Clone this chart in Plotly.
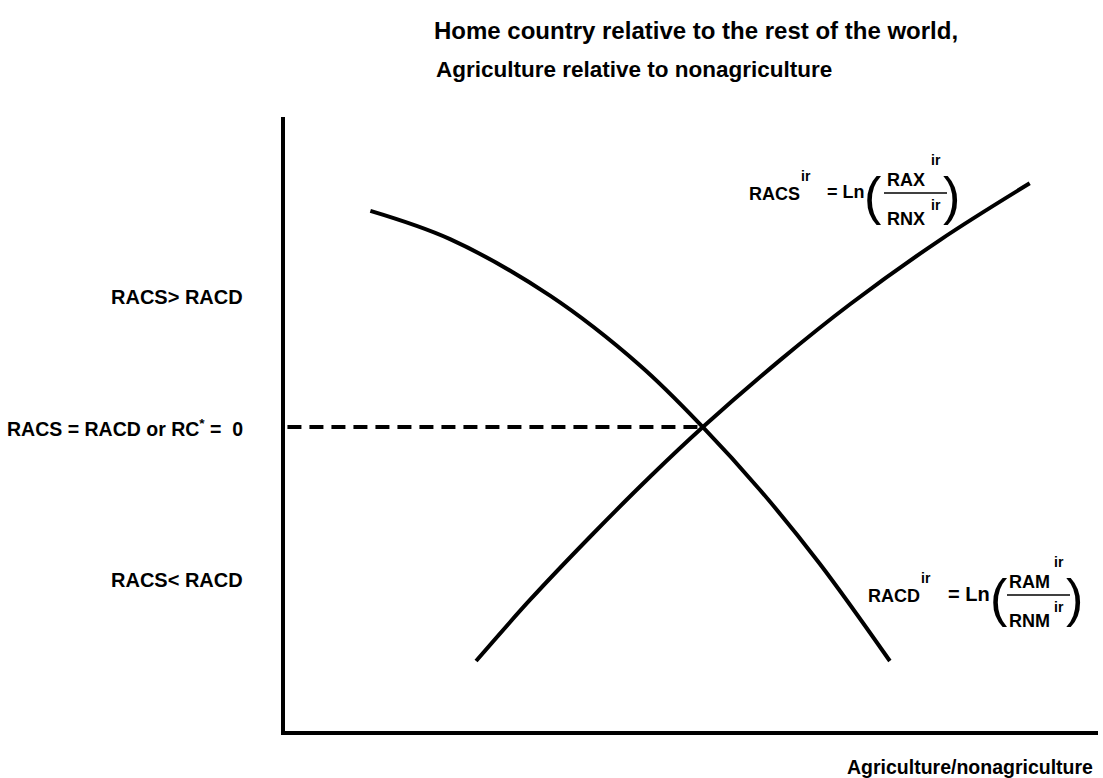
import plotly.graph_objects as go

# Supply curve RACS (rising) and demand curve RACD (falling), arbitrary 0-100 units
racs_x = [23.5, 30.1, 37.5, 44.9, 51.4, 60.9, 69.5, 80.6, 91.6]
racs_y = [11.4, 21.3, 31.6, 41.4, 49.5, 60.4, 69.5, 80.0, 89.2]

racd_x = [10.5, 20.3, 32.6, 43.7, 51.4, 58.4, 65.8, 74.4]
racd_y = [84.7, 80.1, 70.9, 59.5, 49.5, 39.3, 27.2, 11.4]

# Equilibrium where RC* = 0
eq_x = 51.4
eq_y = 49.5

title_lines = ["Home country relative to the rest of the world,",
               "Agriculture relative to nonagriculture"]
side_labels = ["RACS&gt; RACD", "RACS = RACD or RC<sup>*</sup> =  0", "RACS&lt; RACD"]
x_title = "Agriculture/nonagriculture"

W, H = 1103, 778
L, R, T, B = 285, 5, 117, 47
PW, PH = W - L - R, H - T - B
FONT = "Liberation Sans, Arial, sans-serif"


def px(x):
    return (x - L) / PW


def py(y):
    return (H - B - y) / PH


fig = go.Figure()

fig.add_trace(go.Scatter(x=[0.3, eq_x], y=[eq_y, eq_y], mode="lines",
                         line=dict(color="black", width=4, dash="14px,8px"),
                         hoverinfo="skip"))
fig.add_trace(go.Scatter(x=racd_x, y=racd_y, mode="lines",
                         line=dict(color="black", width=4, shape="spline"),
                         hoverinfo="skip"))
fig.add_trace(go.Scatter(x=racs_x, y=racs_y, mode="lines",
                         line=dict(color="black", width=4, shape="spline"),
                         hoverinfo="skip"))

ann = []


def text(s, x, y, size, xanchor="center", yanchor="middle", bold=True):
    ann.append(dict(text=f"<b>{s}</b>" if bold else s, x=px(x), y=py(y),
                    xref="paper", yref="paper", showarrow=False,
                    xanchor=xanchor, yanchor=yanchor,
                    font=dict(family=FONT, size=size, color="black")))


# Title
text(title_lines[0], 432, 31, 24, xanchor="left")
text(title_lines[1], 434, 70, 22.5, xanchor="left")

# Vertical-axis region labels
text(side_labels[0], 245, 297, 20, xanchor="right")
text(side_labels[1], 245, 428, 19.5, xanchor="right")
text(side_labels[2], 245, 580, 20, xanchor="right")

# Horizontal axis title
text(x_title, 1095, 767, 19.5, xanchor="right")


def formula(name, num, den, x_name_right, y_mid, x_ln, ln_size, x_lp, x_rp, x_frac0, x_frac1):
    text(name, x_name_right, y_mid + 2, 18, xanchor="right")
    text("ir", x_name_right + 4, y_mid - 16, 14)
    text("= Ln", x_ln, y_mid, ln_size, xanchor="left")
    text("(", x_lp, y_mid + 4, 52, bold=False)
    text(")", x_rp, y_mid + 4, 52, bold=False)
    xc = x_frac0 + 22
    text(num, xc, y_mid - 12, 18)
    text("ir", x_frac1 - 11, y_mid - 32, 14)
    text(den, xc, y_mid + 27, 18)
    text("ir", x_frac1 - 11, y_mid + 13, 14)
    fig.add_shape(type="line", xref="paper", yref="paper",
                  x0=px(x_frac0), x1=px(x_frac1), y0=py(y_mid + 1), y1=py(y_mid + 1),
                  line=dict(color="black", width=1.5))


formula("RACS", "RAX", "RNX", 802, 192, 825, 18, 873, 951, 884, 947)
formula("RACD", "RAM", "RNM", 922, 594, 946, 20, 999, 1074, 1007, 1070)

fig.update_layout(
    width=W, height=H,
    margin=dict(l=L, r=R, t=T, b=B),
    paper_bgcolor="white", plot_bgcolor="white",
    showlegend=False,
    annotations=ann,
    xaxis=dict(range=[0, 100], showgrid=False, zeroline=False, showticklabels=False,
               ticks="", showline=True, linecolor="black", linewidth=4),
    yaxis=dict(range=[0, 100], showgrid=False, zeroline=False, showticklabels=False,
               ticks="", showline=True, linecolor="black", linewidth=4),
)

fig.write_html("out.html")
